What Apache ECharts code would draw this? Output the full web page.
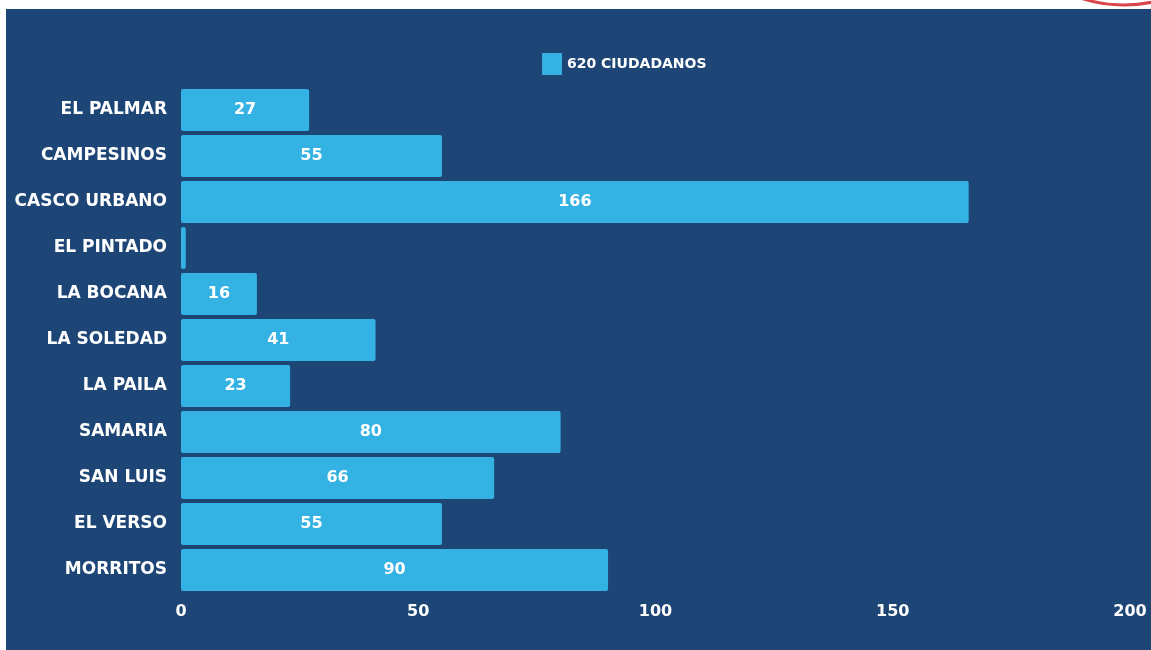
<!DOCTYPE html>
<html>
<head>
<meta charset="utf-8">
<script src="https://cdn.jsdelivr.net/npm/echarts@6/dist/echarts.min.js"></script>
<style>
html,body{margin:0;padding:0;background:#fff;}
#chart{width:1151px;height:650px;}
</style>
</head>
<body>
<div id="chart"></div>
<script>
const categories = ['EL PALMAR','CAMPESINOS','CASCO URBANO','EL PINTADO','LA BOCANA','LA SOLEDAD','LA PAILA','SAMARIA','SAN LUIS','EL VERSO','MORRITOS'];
const values = [27, 55, 166, 1, 16, 41, 23, 80, 66, 55, 90];
const seriesName = '620 CIUDADANOS';
const xTicks = [0, 50, 100, 150, 200];

const BG = '#1d4676';
const BAR = '#34b2e3';
const FONT = 'DejaVu Sans';

const chart = echarts.init(document.getElementById('chart'));
chart.setOption({
  backgroundColor: '#ffffff',
  animation: false,
  graphic: [
    { type: 'rect', z: -10, shape: { x: 6, y: 9, width: 1151, height: 650 }, style: { fill: BG } },
    { type: 'circle', z: -9, shape: { cx: 1124, cy: -134, r: 139 }, style: { fill: 'none', stroke: '#d9454c', lineWidth: 3 } }
  ],
  legend: {
    data: [seriesName],
    left: 537, top: 48,
    itemWidth: 20, itemHeight: 22,
    icon: 'rect',
    textStyle: { color: '#ffffff', fontFamily: FONT, fontWeight: 'bold', fontSize: 14 }
  },
  grid: { left: 181, right: 21, top: 87, bottom: 57, containLabel: false },
  xAxis: {
    type: 'value', min: xTicks[0], max: xTicks[xTicks.length-1], interval: 50,
    axisLine: { show: false }, axisTick: { show: false }, splitLine: { show: false },
    axisLabel: { color: '#ffffff', fontFamily: FONT, fontWeight: 'bold', fontSize: 16, margin: 11 }
  },
  yAxis: {
    type: 'category', data: categories, inverse: true,
    axisLine: { show: false }, axisTick: { show: false },
    axisLabel: { color: '#ffffff', fontFamily: FONT, fontWeight: 'bold', fontSize: 17, margin: 14 }
  },
  series: [{
    name: seriesName, type: 'bar', data: values,
    barCategoryGap: '9%',
    itemStyle: { color: BAR, borderRadius: 2 },
    label: {
      show: true, position: 'inside', color: '#ffffff', fontFamily: FONT, fontWeight: 'bold', fontSize: 16,
      formatter: p => p.value >= 5 ? String(p.value) : ''
    }
  }]
});
</script>
</body>
</html>
